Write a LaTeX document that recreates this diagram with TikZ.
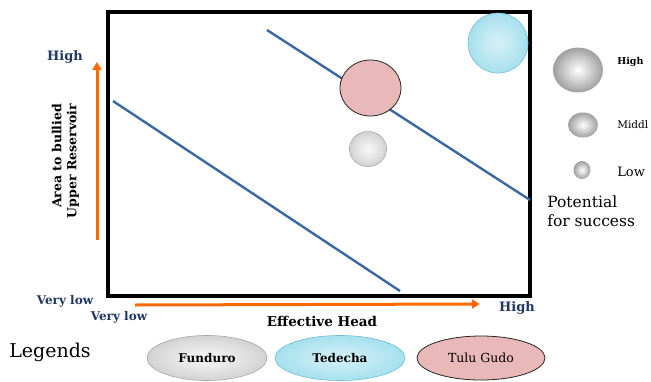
\documentclass[tikz,border=0pt]{standalone}
\usepackage{fontspec}
\setmainfont{DejaVu Serif}
\usetikzlibrary{arrows.meta,shapes.geometric}

\definecolor{axisorange}{HTML}{FF6A00}
\definecolor{labelnavy}{HTML}{1F3763}
\definecolor{trendblue}{HTML}{3A68A0}
\definecolor{tedechablue}{HTML}{A6E0EE}
\definecolor{tedechaline}{HTML}{6FBFD6}
\definecolor{tulupink}{HTML}{E8B9B8}

\newcommand{\fsz}[2]{\fontsize{#1}{#2}\selectfont}

\begin{document}
\begin{tikzpicture}[x=1pt, y=-1pt, line width=0.6pt,
  navylabel/.style={text=labelnavy, inner sep=0pt},
  axisarrow/.style={draw=axisorange, line width=3pt, -{Triangle[length=8pt,width=9pt]}},
  trend/.style={draw=trendblue, line width=2.4pt},
  sizeball/.style={ellipse, inner sep=0pt, shade, inner color=white, outer color=gray!75},
  funduro/.style={ellipse, inner sep=0pt, shade, inner color=gray!5, outer color=gray!35, draw=gray!70},
  tedecha/.style={ellipse, inner sep=0pt, shade, inner color=tedechablue!45, outer color=tedechablue, draw=tedechaline},
  tulugudo/.style={ellipse, inner sep=0pt, fill=tulupink, draw=black!85, line width=0.8pt}]
  \useasboundingbox (0,0) rectangle (651,381);

  % frame of the chart
  \draw[line width=4pt] (108,12) rectangle (530,296);

  % axes
  \coordinate (yfoot) at (97,240);
  \coordinate (ytip) at (97,62);
  \coordinate (xfoot) at (135,305);
  \coordinate (xtip) at (480,304);
  \draw[axisarrow] (yfoot) -- (ytip);
  \draw[axisarrow] (xfoot) -- (xtip);

  % trend lines
  \coordinate (lowstart) at (113,101);
  \coordinate (lowend) at (400,291);
  \coordinate (highstart) at (267,30);
  \coordinate (highend) at (530,200);
  \draw[trend] (lowstart) -- (lowend);
  \draw[trend] (highstart) -- (highend);

  % sites
  \node[tedecha, minimum width=60pt, minimum height=60pt] (tedechasite) at (498,43) {};
  \node[tulugudo, minimum width=61pt, minimum height=56pt] (tulusite) at (370.5,88) {};
  \node[funduro, minimum width=37pt, minimum height=35pt] (fundurosite) at (368,149) {};

  % axis labels
  \node[navylabel, font=\bfseries\fsz{13}{15}] (yhigh) at (65,57) {High};
  \node[navylabel, font=\bfseries\fsz{12}{14}] (ylow) at (65,301) {Very low};
  \node[navylabel, font=\bfseries\fsz{12}{14}] (xlow) at (119,317) {Very low};
  \node[navylabel, font=\bfseries\fsz{13}{15}] (xhigh) at (517,308) {High};
  \node[font=\bfseries\fsz{13.5}{15}, inner sep=0pt] (xname) at (322,321) {Effective Head};
  \node[font=\bfseries\fsz{12.5}{15}, inner sep=0pt, rotate=90, align=right] (yname) at (65.5,161) {Area to bullied\\Upper Reservoir};

  % potential legend
  \node[sizeball, minimum width=50pt, minimum height=45pt] (ballhigh) at (578,70) {};
  \node[sizeball, minimum width=30pt, minimum height=25pt] (ballmid) at (583,125) {};
  \node[sizeball, minimum width=17pt, minimum height=18pt] (balllow) at (582,170) {};
  \node[font=\bfseries\fsz{9.5}{11}, anchor=west, inner sep=0pt] (potentialhigh) at (617,62) {High};
  \node[font=\fsz{10.5}{12}, anchor=west, inner sep=0pt] (potentialmid) at (617,125) {Middl};
  \node[font=\fsz{13}{15}, anchor=west, inner sep=0pt] (potentiallow) at (617,172) {Low};
  \node[font=\fsz{15.5}{19}, anchor=north west, align=left, inner sep=0pt] (potentialname) at (547,195) {Potential\\for success};

  % site legend
  \node[font=\fsz{19}{22}, inner sep=0pt] (legendname) at (50,352) {Legends};
  \node[funduro, minimum width=120pt, minimum height=45pt, font=\bfseries\fsz{12}{14}] (funduro) at (207,358) {Funduro};
  \node[tedecha, minimum width=130pt, minimum height=45pt, font=\bfseries\fsz{12}{14}] (tedecha) at (340,358) {Tedecha};
  \node[tulugudo, minimum width=128pt, minimum height=44pt, font=\fsz{12.5}{14}] (tulugudo) at (481,358) {Tulu Gudo};
\end{tikzpicture}
\end{document}
